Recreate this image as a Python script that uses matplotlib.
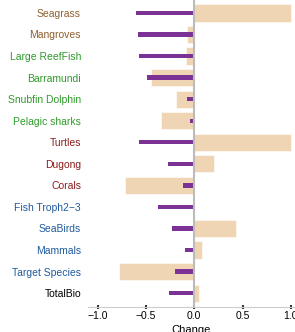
import matplotlib
matplotlib.use("Agg")
import matplotlib.pyplot as plt

categories = ["Seagrass", "Mangroves", "Large ReefFish", "Barramundi", "Snubfin Dolphin",
              "Pelagic sharks", "Turtles", "Dugong", "Corals", "Fish Troph2\u22123",
              "SeaBirds", "Mammals", "Target Species", "TotalBio"]
bar_values = [1.0, -0.08, -0.09, -0.45, -0.19, -0.345, 1.0, 0.205, -0.72, -0.015,
              0.43, 0.08, -0.78, 0.045]
line_values = [-0.605, -0.58, -0.57, -0.49, -0.07, -0.045, -0.575, -0.27, -0.12, -0.38,
               -0.235, -0.095, -0.2, -0.265]
label_colors = ["#8f5f2e", "#8f5f2e", "#2f9a2a", "#2f9a2a", "#2f9a2a", "#2f9a2a",
                "#8b1c1c", "#8b1c1c", "#8b1c1c", "#1f5b9c", "#1f5b9c", "#1f5b9c",
                "#1f5b9c", "#000000"]
xticks = [-1.0, -0.5, 0.0, 0.5, 1.0]

plt.rcParams['font.family'] = ['Liberation Sans', 'DejaVu Sans']

fig = plt.figure(figsize=(2.95, 3.32), dpi=100)
ax = fig.add_axes([88/295, 25.3/332, 207/295, 306.7/332])

y = list(range(len(categories)))
ax.barh(y, bar_values, height=0.8, color="#efd5b4", edgecolor="white", linewidth=0.4, zorder=2)
ax.barh(y, line_values, height=0.2, color="#7b3294", linewidth=0, zorder=3)
ax.axvline(0, color="#bbbbbb", linewidth=1.5, zorder=4)

ax.set_ylim(13.63, -0.6)
ax.set_xlim(-1.10, 1.043)
ax.set_yticks(y)
ax.set_yticklabels(categories, fontsize=7.5)
for lbl, c in zip(ax.get_yticklabels(), label_colors):
    lbl.set_color(c)
ax.tick_params(axis="y", length=0, pad=5)
ax.set_xticks(xticks)
ax.set_xticklabels(["\u22121.0", "\u22120.5", "0.0", "0.5", "1.0"], fontsize=7.5)
ax.tick_params(axis="x", length=2.5, width=1.5, color="#333333", direction="inout", pad=2)
ax.set_xlabel("Change", fontsize=8, labelpad=2.5)

for s in ["top", "right", "left"]:
    ax.spines[s].set_visible(False)
ax.spines["bottom"].set_color("#cccccc")
ax.spines["bottom"].set_linewidth(0.8)

fig.savefig("out.png", dpi=100)
